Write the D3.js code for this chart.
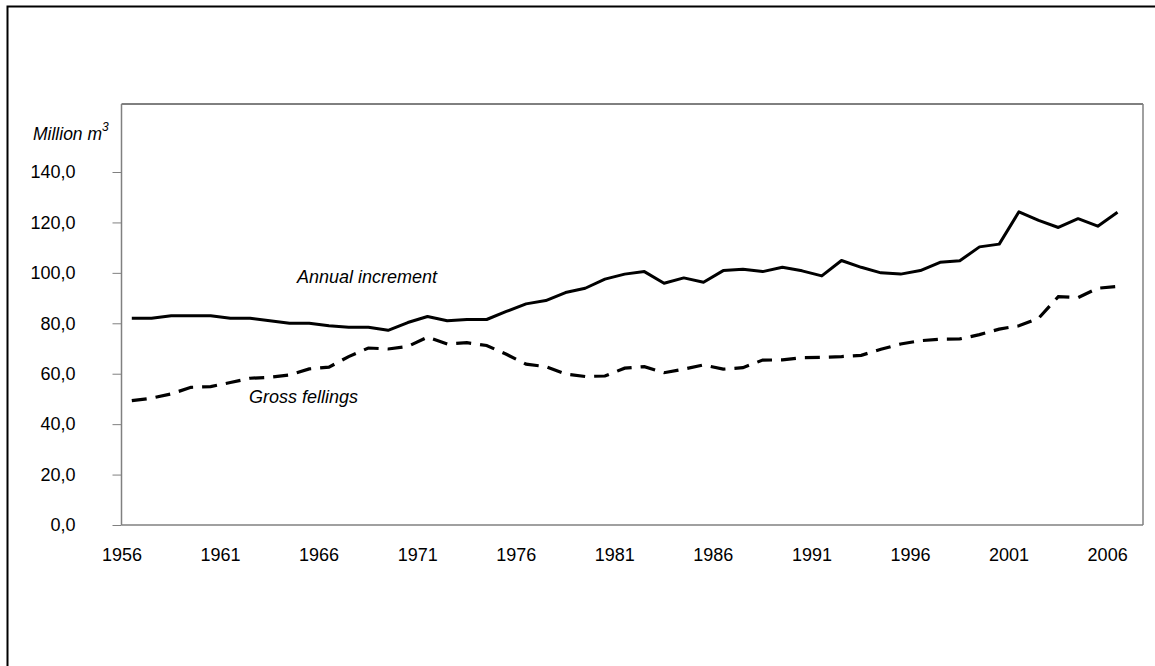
<!DOCTYPE html>
<html>
<head>
<meta charset="utf-8">
<script src="https://cdn.jsdelivr.net/npm/d3@7"></script>
<style>
  body { margin: 0; background: #fff; }
  text { font-family: "Liberation Sans", Arial, sans-serif; }
</style>
</head>
<body>
<div id="chart"></div>
<script>
const years = d3.range(1956, 2007);

const annualIncrement = [
    82.0, 82.0, 83.0, 83.0, 83.0, 82.0, 82.0, 81.0, 80.0, 80.0,
    79.0, 78.4, 78.4, 77.2, 80.3, 82.7, 81.0, 81.5, 81.5, 84.7,
    87.7, 89.0, 92.2, 93.9, 97.5, 99.5, 100.5, 95.9, 98.0, 96.3,
    100.9, 101.4, 100.5, 102.2, 100.8, 98.8, 104.9, 102.2, 100.0, 99.5,
    100.9, 104.2, 104.8, 110.3, 111.4, 124.2, 120.8, 118.0, 121.5, 118.5,
    124.0
];

const grossFellings = [
    49.3, 50.3, 52.0, 54.6, 54.9, 56.5, 58.2, 58.6, 59.5, 61.9,
    62.6, 66.8, 70.2, 69.8, 70.8, 74.5, 71.8, 72.3, 71.2, 67.7,
    63.8, 62.8, 59.9, 58.9, 59.1, 62.2, 62.8, 60.4, 61.8, 63.5,
    61.8, 62.4, 65.4, 65.5, 66.4, 66.5, 66.8, 67.3, 69.7, 71.8,
    73.1, 73.7, 73.8, 75.5, 77.7, 79.0, 82.0, 90.6, 90.2, 93.9,
    94.6
];

const yTicks = [0, 20, 40, 60, 80, 100, 120, 140];
const xTickYears = [1956, 1961, 1966, 1971, 1976, 1981, 1986, 1991, 1996, 2001, 2006];

const width = 1155, height = 666;
const plot = { left: 121.5, right: 1143, top: 104, bottom: 525 };
const fontSize = 18;

const svg = d3.select("#chart")
    .append("svg")
    .attr("width", width)
    .attr("height", height);

// outer frame
svg.append("path")
    .attr("d", `M7.5,${height} L7.5,6.5 L${width},6.5`)
    .attr("fill", "none")
    .attr("stroke", "#000")
    .attr("stroke-width", 2);

const x = d3.scaleLinear()
    .domain([1956, 2006])
    .range([131.8, 1117.5]);
const step = x(1957) - x(1956);

const y = d3.scaleLinear()
    .domain([0, 140])
    .range([plot.bottom, 172]);

// plot area border
svg.append("line")
    .attr("x1", plot.left).attr("x2", plot.right)
    .attr("y1", plot.top).attr("y2", plot.top)
    .attr("stroke", "#000").attr("stroke-width", 1);
svg.append("line")
    .attr("x1", plot.right).attr("x2", plot.right)
    .attr("y1", plot.top).attr("y2", plot.bottom)
    .attr("stroke", "#808080").attr("stroke-width", 1.5);

// y axis
const yAxis = svg.append("g")
    .attr("transform", `translate(${plot.left},0)`)
    .call(d3.axisLeft(y)
        .tickValues(yTicks)
        .tickSize(9)
        .tickPadding(37)
        .tickFormat(d => d3.format(".1f")(d).replace(".", ",")));
yAxis.select(".domain")
    .attr("d", `M0,${plot.top}V${plot.bottom}`)
    .attr("stroke", "#808080")
    .attr("stroke-width", 1.5);
yAxis.selectAll(".tick line").attr("stroke", "#808080");
yAxis.selectAll(".tick text")
    .attr("font-size", fontSize)
    .attr("fill", "#000")
    .style("font-family", "'Liberation Sans', Arial, sans-serif");

// x axis
svg.append("line")
    .attr("x1", plot.left).attr("x2", plot.right)
    .attr("y1", plot.bottom).attr("y2", plot.bottom)
    .attr("stroke", "#808080").attr("stroke-width", 1.5);

svg.append("g")
    .selectAll("text")
    .data(xTickYears)
    .enter()
    .append("text")
    .attr("x", d => x(d) - step / 2)
    .attr("y", 561)
    .attr("text-anchor", "middle")
    .attr("font-size", fontSize)
    .text(d => d);

// y axis title
const yTitle = svg.append("text")
    .attr("x", 33)
    .attr("y", 140)
    .attr("font-size", 17.5)
    .attr("font-style", "italic");
yTitle.append("tspan").text("Million m");
yTitle.append("tspan")
    .attr("font-size", 12)
    .attr("dy", -9)
    .text("3");

// lines
const line = d3.line()
    .x((d, i) => x(years[i]))
    .y(d => y(d));

svg.append("path")
    .datum(annualIncrement)
    .attr("d", line)
    .attr("fill", "none")
    .attr("stroke", "#000")
    .attr("stroke-width", 3)
    .attr("stroke-linejoin", "round");

svg.append("path")
    .datum(grossFellings)
    .attr("d", line)
    .attr("fill", "none")
    .attr("stroke", "#000")
    .attr("stroke-width", 3.2)
    .attr("stroke-dasharray", "15,9");

// series labels
svg.append("text")
    .attr("x", 297)
    .attr("y", 283)
    .attr("font-size", fontSize)
    .attr("font-style", "italic")
    .text("Annual increment");

svg.append("text")
    .attr("x", 249)
    .attr("y", 403)
    .attr("font-size", fontSize)
    .attr("font-style", "italic")
    .text("Gross fellings");
</script>
</body>
</html>
